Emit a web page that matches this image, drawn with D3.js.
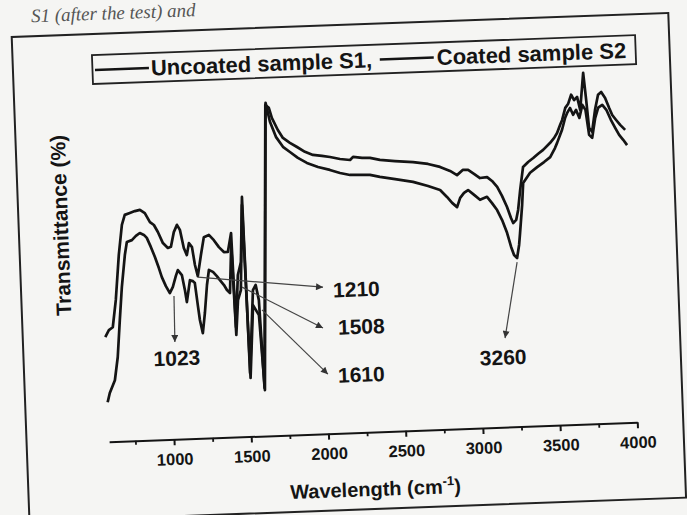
<!DOCTYPE html>
<html>
<head>
<meta charset="utf-8">
<script src="https://cdn.jsdelivr.net/npm/d3@7"></script>
<style>
  html, body { margin: 0; padding: 0; background: #f5f5f3; }
  svg { display: block; font-family: 'Liberation Sans', Arial, sans-serif; }
</style>
</head>
<body>
<div class="vis-ftir"></div>
<script>
// spectrum (wavenumber cm-1, transmittance in arbitrary %)
const uncoatedWave = [580, 605, 631, 657, 687, 714, 735, 768, 801, 834, 865, 896, 921, 945, 975, 1006, 1026, 1048, 1070, 1088,
    1109, 1127, 1143, 1162, 1177, 1193, 1218, 1241, 1274, 1305, 1336, 1367, 1393, 1418, 1428, 1452, 1475, 1497, 1508, 1546,
    1565, 1582, 1598, 1670, 1692, 1709, 1745, 1776, 1820, 1865, 1915, 1966, 2024, 2076, 2140, 2205, 2225, 2283, 2334, 2398,
    2495, 2612, 2708, 2785, 2849, 2893, 2933, 2966, 3003, 3041, 3087, 3118, 3150, 3179, 3209, 3232, 3245, 3265, 3280, 3298,
    3322, 3356, 3390, 3423, 3456, 3503, 3530, 3550, 3572, 3586, 3609, 3629, 3650, 3668, 3688, 3705, 3733, 3746, 3758, 3777,
    3801, 3824, 3845, 3869, 3893, 3911, 3935, 3960, 3991];
const uncoatedT = [30.8, 32.8, 33.6, 41.6, 54.8, 63.6, 66.5, 67.0, 67.5, 67.8, 66.8, 64.1, 63.2, 61.1, 57.8, 56.3, 56.6, 60.9, 63.0, 61.5,
    56.1, 54.0, 57.5, 56.3, 51.0, 47.7, 53.9, 59.1, 59.7, 58.1, 56.0, 54.5, 54.5, 60.0, 32.3, 47.6, 51.4, 70.5, 18.6, 43.0,
    44.5, 40.0, 14.1, 97.3, 96.4, 93.4, 89.8, 87.4, 85.9, 84.6, 83.1, 82.1, 81.7, 81.3, 80.6, 80.2, 81.1, 80.7, 80.6, 79.9,
    79.4, 78.9, 78.2, 77.2, 75.9, 74.6, 76.1, 76.0, 74.8, 73.5, 73.7, 72.5, 70.7, 68.0, 64.7, 61.4, 59.9, 60.8, 63.7, 69.6,
    76.3, 77.7, 78.8, 80.0, 81.1, 83.1, 84.5, 85.9, 88.3, 89.7, 93.2, 94.4, 97.0, 95.4, 96.3, 92.4, 103.3, 95.3, 87.1, 85.9,
    92.3, 96.7, 97.5, 95.7, 92.7, 90.6, 89.1, 87.6, 86.1];

const coatedWave = [580, 596, 632, 656, 678, 699, 726, 742, 775, 802, 828, 854, 872, 896, 920, 943, 960, 984, 1008, 1029,
    1051, 1065, 1090, 1106, 1116, 1141, 1160, 1172, 1186, 1196, 1212, 1230, 1250, 1266, 1292, 1316, 1335, 1360, 1378, 1397,
    1416, 1428, 1447, 1468, 1495, 1510, 1543, 1561, 1579, 1600, 1672, 1696, 1731, 1774, 1818, 1868, 1925, 1996, 2072, 2137,
    2201, 2266, 2330, 2394, 2492, 2607, 2703, 2780, 2823, 2855, 2886, 2908, 2934, 2961, 2999, 3036, 3082, 3113, 3144, 3174,
    3203, 3226, 3243, 3262, 3278, 3287, 3307, 3319, 3366, 3413, 3459, 3500, 3533, 3548, 3569, 3583, 3606, 3620, 3640, 3658,
    3678, 3698, 3720, 3739, 3757, 3776, 3800, 3822, 3849, 3874, 3901, 3927, 3951, 3976, 4000];
const coatedT = [11.6, 14.3, 18.0, 24.8, 35.6, 45.3, 54.7, 58.5, 59.0, 60.2, 61.0, 60.4, 59.5, 56.8, 53.8, 50.5, 47.8, 45.1, 43.0, 44.8,
    48.0, 49.7, 48.2, 43.8, 40.2, 46.6, 46.3, 45.7, 39.2, 34.8, 30.9, 36.8, 45.0, 49.4, 48.8, 47.5, 46.3, 44.8, 43.3, 42.4,
    56.5, 30.0, 40.2, 43.1, 68.1, 17.2, 38.6, 37.1, 35.6, 13.5, 97.9, 92.3, 87.8, 84.8, 83.2, 81.4, 79.8, 78.5, 77.5, 76.5,
    75.8, 75.7, 75.6, 74.9, 74.1, 73.1, 71.7, 70.4, 68.3, 66.5, 65.2, 67.9, 69.3, 70.1, 68.6, 67.1, 67.9, 66.0, 63.9, 60.9,
    57.1, 52.9, 50.5, 49.6, 53.4, 56.9, 65.1, 71.6, 74.5, 76.1, 77.5, 78.9, 81.5, 83.0, 85.3, 86.8, 90.3, 91.7, 93.1, 91.1,
    92.5, 90.1, 93.9, 92.4, 85.0, 84.1, 89.9, 92.9, 93.7, 92.2, 89.2, 86.8, 84.7, 83.2, 81.6];

const xTicks = [1000, 1500, 2000, 2500, 3000, 3500, 4000];
const xMinorTicks = [750, 1250, 1750, 2250, 2750, 3250, 3750];
const legendNames = ['Uncoated sample S1,', 'Coated sample S2'];

// peak annotations: arrow start, arrow end, label position
const peakLabels = ['1023', '1210', '1508', '1610', '3260'];
const peakFrom = [[1034, 42.1], [1193, 47.4], [1476, 44.0], [1600, 37.1], [3261, 48.4]];
const peakTo = [[1029, 28.6], [2000, 43.1], [1990, 31.1], [2011, 17.5], [3165, 26.2]];
const peakText = [[1038, 23.9], [2064, 42.2], [2087, 31.2], [2076, 17.1], [3148, 20.6]];
const peakAnchor = ['middle', 'start', 'start', 'start', 'middle'];

const width = 687, height = 515;
const ink = '#141414';

const svg = d3.select('.vis-ftir')
    .append('svg')
    .attr('width', width)
    .attr('height', height);

svg.append('defs').append('marker')
    .attr('id', 'arrow')
    .attr('viewBox', '0 0 10 10')
    .attr('refX', 10)
    .attr('refY', 5)
    .attr('markerUnits', 'userSpaceOnUse')
    .attr('markerWidth', 10)
    .attr('markerHeight', 7)
    .attr('orient', 'auto')
    .append('path')
    .attr('d', 'M0,0 L10,5 L0,10 z')
    .attr('fill', '#333');

// the photographed page is turned a little
const page = svg.append('g')
    .attr('transform', 'rotate(-2.1, 343, 257)');

page.append('text')
    .attr('x', 40)
    .attr('y', 11)
    .style('font-family', "'Liberation Serif', serif")
    .style('font-style', 'italic')
    .style('font-size', '19px')
    .attr('fill', '#555')
    .text('S1 (after the test) and');

page.append('rect')
    .attr('x', 20)
    .attr('y', 25)
    .attr('width', 657)
    .attr('height', 485)
    .attr('fill', 'none')
    .attr('stroke', '#222')
    .attr('stroke-width', 2);

const x = d3.scaleLinear().domain([580, 4000]).range([102.5, 631]);
const y = d3.scaleLinear().domain([0, 100]).range([433, 93]);

// x axis
const axisG = page.append('g')
    .attr('transform', 'translate(0,' + y(0) + ')')
    .call(d3.axisBottom(x)
        .tickValues(xTicks)
        .tickSize(6)
        .tickSizeOuter(0)
        .tickPadding(8)
        .tickFormat(d3.format('d')));
axisG.select('.domain').attr('stroke', ink).attr('stroke-width', 2);
axisG.selectAll('.tick line').attr('stroke', ink).attr('stroke-width', 2);
axisG.selectAll('.tick text')
    .attr('fill', ink)
    .style('font-family', "'Liberation Sans', Arial, sans-serif")
    .style('font-weight', 'bold')
    .style('font-size', '16.5px');

const minorG = page.append('g')
    .attr('transform', 'translate(0,' + y(0) + ')')
    .call(d3.axisBottom(x).tickValues(xMinorTicks).tickSize(4).tickSizeOuter(0).tickFormat(''));
minorG.select('.domain').remove();
minorG.selectAll('.tick line').attr('stroke', ink).attr('stroke-width', 1.8);

// axis titles
const xTitle = page.append('text')
    .attr('x', 367)
    .attr('y', 497)
    .attr('text-anchor', 'middle')
    .attr('fill', ink)
    .style('font-weight', 'bold')
    .style('font-size', '20px');
xTitle.append('tspan').text('Wavelength (cm');
xTitle.append('tspan').attr('dy', -8).style('font-size', '13px').text('-1');
xTitle.append('tspan').attr('dy', 8).text(')');

page.append('text')
    .attr('transform', 'translate(62,215) rotate(-90)')
    .attr('text-anchor', 'middle')
    .attr('dy', '0.35em')
    .attr('fill', ink)
    .style('font-weight', 'bold')
    .style('font-size', '21px')
    .text('Transmittance (%)');

// spectra
const series = [
    { name: legendNames[0], pts: d3.zip(uncoatedWave, uncoatedT) },
    { name: legendNames[1], pts: d3.zip(coatedWave, coatedT) }
];

const line = d3.line()
    .x(d => x(d[0]))
    .y(d => y(d[1]));

page.selectAll('path.spectrum')
    .data(series)
    .enter()
    .append('path')
    .attr('class', 'spectrum')
    .attr('d', d => line(d.pts))
    .attr('fill', 'none')
    .attr('stroke', ink)
    .attr('stroke-width', 2.7)
    .attr('stroke-linejoin', 'round');

// peak arrows + labels
peakLabels.forEach((lab, i) => {
    page.append('line')
        .attr('x1', x(peakFrom[i][0]))
        .attr('y1', y(peakFrom[i][1]))
        .attr('x2', x(peakTo[i][0]))
        .attr('y2', y(peakTo[i][1]))
        .attr('stroke', '#444')
        .attr('stroke-width', 1.2)
        .attr('marker-end', 'url(#arrow)');
    page.append('text')
        .attr('x', x(peakText[i][0]))
        .attr('y', y(peakText[i][1]))
        .attr('dy', '0.36em')
        .attr('text-anchor', peakAnchor[i])
        .attr('fill', ink)
        .style('font-weight', 'bold')
        .style('font-size', '21px')
        .text(lab);
});

// legend box
const legend = page.append('g');
legend.append('rect')
    .attr('x', 99.5)
    .attr('y', 46)
    .attr('width', 543.5)
    .attr('height', 29)
    .attr('fill', 'none')
    .attr('stroke', '#222')
    .attr('stroke-width', 1.8);

const legendLineX = [102, 387];
const legendTextX = [158, 444];
legendNames.forEach((name, i) => {
    legend.append('line')
        .attr('x1', legendLineX[i])
        .attr('x2', legendLineX[i] + 54)
        .attr('y1', 61)
        .attr('y2', 61)
        .attr('stroke', ink)
        .attr('stroke-width', 2.4);
    legend.append('text')
        .attr('x', legendTextX[i])
        .attr('y', 68.5)
        .attr('fill', ink)
        .style('font-weight', 'bold')
        .style('font-size', '22px')
        .text(name);
});
</script>
</body>
</html>
